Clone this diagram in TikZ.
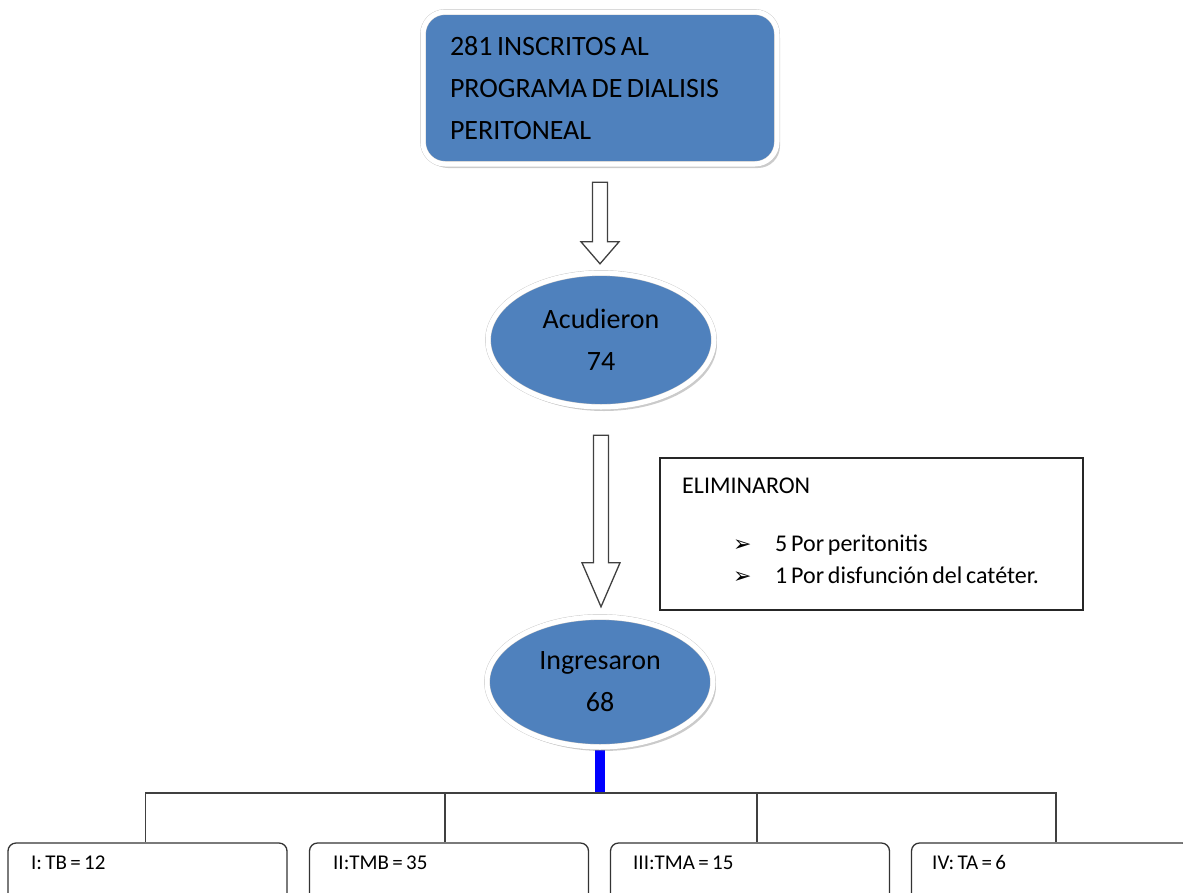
\documentclass[tikz,border=0pt]{standalone}
\usepackage{fontspec}
\setmainfont{Carlito}[WordSpace=0.7]
\newfontfamily\symfont{DejaVu Sans}
\usetikzlibrary{shapes.geometric,positioning,calc,shadows,backgrounds}
\definecolor{officeblue}{RGB}{79,129,189}
\newcommand{\blockarrow}[3]{%
  \draw[hollow] let \p1=(#1), \p2=(#2) in
    (\x1-7.5pt,\y1) -- (\x1-7.5pt,\y2+#3) -- (\x1-19pt,\y2+#3) -- (\x1,\y2)
    -- (\x1+19pt,\y2+#3) -- (\x1+7.5pt,\y2+#3) -- (\x1+7.5pt,\y1) -- cycle;}

\begin{document}
\begin{tikzpicture}[x=1pt,y=1pt,
    bluebox/.style={draw=black!22, double=white, double distance=5pt, fill=officeblue, align=center,
      drop shadow={shadow xshift=3pt, shadow yshift=-4pt, fill=black!45, opacity=0.45}},
    hollow/.style={draw=black!75, line width=1.3pt, fill=white},
    plainbox/.style={draw=black!85, line width=1.4pt, minimum width=423pt, minimum height=152pt},
    stagebox/.style={draw=black!80, line width=1.3pt, rounded corners=8pt, minimum width=279pt, minimum height=64pt},
    tree/.style={draw=black!75, line width=1.6pt},
    bigtxt/.style={font=\fontsize{28}{42}\selectfont},
    midtxt/.style={font=\fontsize{24}{30}\selectfont, anchor=base west, inner sep=0pt},
    smalltxt/.style={font=\fontsize{21}{25}\selectfont, anchor=base west, inner sep=0pt},
    marktxt/.style={font=\symfont\fontsize{22}{22}\selectfont, anchor=base west, inner sep=0pt}
]
\useasboundingbox (0,0) rectangle (1183,-892);
\clip (0,0) rectangle (1183,-892);

\node[bluebox, rounded corners=22pt, minimum width=354pt, minimum height=152pt, text width=300pt, align=flush left, bigtxt, inner xsep=27pt] (inscritos) at (600,-88) {281 INSCRITOS AL\\PROGRAMA DE DIALISIS\\PERITONEAL};
\node[bluebox, ellipse, minimum width=226pt, minimum height=134pt, bigtxt] (acudieron) at (601,-340) {Acudieron\\74};
\node[bluebox, ellipse, minimum width=226pt, minimum height=130pt, bigtxt] (ingresaron) at (600,-682) {Ingresaron\\68};

\coordinate (arrowonetop) at ($(inscritos.south)+(0,-18)$);
\coordinate (arrowonetip) at ($(acudieron.north)+(0,9)$);
\coordinate (arrowtwotop) at ($(acudieron.south)+(0,-28)$);
\coordinate (arrowtwotip) at ($(ingresaron.north)+(0,10)$);
\blockarrow{arrowonetop}{arrowonetip}{22pt}
\blockarrow{arrowtwotop}{arrowtwotip}{44pt}

\node[plainbox] (eliminaron) at (871.5,-534) {};
\node[midtxt] (elimtitle) at (682,-493) {ELIMINARON};
\node[marktxt] (markone) at (733,-551) {➢};
\node[midtxt] (causeone) at (775,-551) {5 Por peritonitis};
\node[marktxt] (marktwo) at (733,-583) {➢};
\node[midtxt] (causetwo) at (775,-583) {1 Por disfunción del catéter.};

\node[stagebox] (stageone) at (147.5,-875) {};
\node[stagebox] (stagetwo) at (449,-875) {};
\node[stagebox] (stagethree) at (750,-875) {};
\node[stagebox] (stagefour) at (1051,-875) {};
\node[smalltxt] (labelone) at (31,-869) {I: TB = 12};
\node[smalltxt] (labeltwo) at (333,-869) {II:TMB = 35};
\node[smalltxt] (labelthree) at (633,-869) {III:TMA = 15};
\node[smalltxt] (labelfour) at (932,-869) {IV: TA = 6};

\coordinate (bar) at ($(ingresaron.south)+(0,-46)$);
\begin{scope}[on background layer]
\draw[blue, line width=10pt] (ingresaron.south) -- (bar);
\end{scope}
\draw[tree] ([xshift=-2pt]stageone.north) -- ([xshift=-2pt]stageone.north |- bar) -- ([xshift=5pt]stagefour.north |- bar) -- ([xshift=5pt]stagefour.north);
\draw[tree] ([xshift=-4pt]stagetwo.north) -- ([xshift=-4pt]stagetwo.north |- bar);
\draw[tree] ([xshift=7pt]stagethree.north) -- ([xshift=7pt]stagethree.north |- bar);
\end{tikzpicture}
\end{document}
